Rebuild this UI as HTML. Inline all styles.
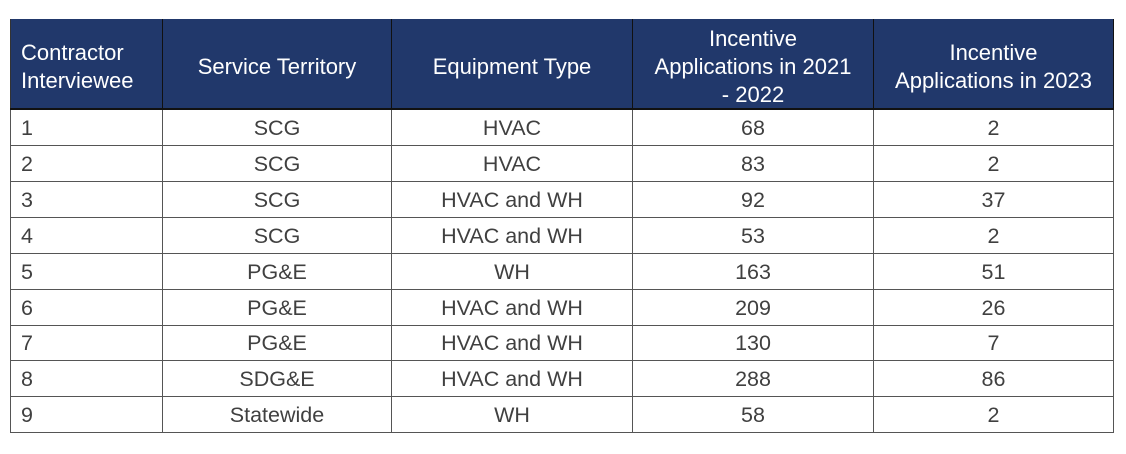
<!DOCTYPE html>
<html><head><style>
body{margin:0;width:1126px;height:454px;background:#fff;position:relative;overflow:hidden;font-family:"Liberation Sans",sans-serif}
.h{position:absolute;top:19px;height:90px;padding-top:6px;background:#21386b;color:#fff;font-size:22px;line-height:28px;display:flex;align-items:center;justify-content:center;text-align:center;box-sizing:border-box;border-right:1px solid #111}
.c{position:absolute;height:36px;color:#404040;font-size:21.5px;line-height:36px;text-align:center;box-sizing:border-box;border-right:1px solid #555;border-bottom:1px solid #555}
</style></head><body>
<div class="h" style="left:10px;width:153px;justify-content:flex-start;text-align:left;padding-left:10px;border-left:1px solid #333">Contractor<br>Interviewee</div>
<div class="h" style="left:163px;width:229px">Service Territory</div>
<div class="h" style="left:392px;width:241px">Equipment Type</div>
<div class="h" style="left:633px;width:241px">Incentive<br>Applications in 2021<br>- 2022</div>
<div class="h" style="left:874px;width:240px">Incentive<br>Applications in 2023</div>
<div style="position:absolute;left:10px;top:108px;width:1104px;height:2px;background:#111"></div>
<div id="rows"></div>
<script>
var d=[[1,"SCG","HVAC",68,2],[2,"SCG","HVAC",83,2],[3,"SCG","HVAC and WH",92,37],[4,"SCG","HVAC and WH",53,2],[5,"PG&amp;E","WH",163,51],[6,"PG&amp;E","HVAC and WH",209,26],[7,"PG&amp;E","HVAC and WH",130,7],[8,"SDG&amp;E","HVAC and WH",288,86],[9,"Statewide","WH",58,2]];
var x=[10,163,392,633,874,1114],h="";
d.forEach(function(r,i){var t=110+i*35.9;for(var j=0;j<5;j++){h+='<div class="c" style="top:'+t+'px;left:'+x[j]+'px;width:'+(x[j+1]-x[j])+'px;'+(j==0?'text-align:left;padding-left:10px;border-left:1px solid #555;':'')+'">'+r[j]+'</div>';}});
document.getElementById("rows").innerHTML=h;
</script>
</body></html>
